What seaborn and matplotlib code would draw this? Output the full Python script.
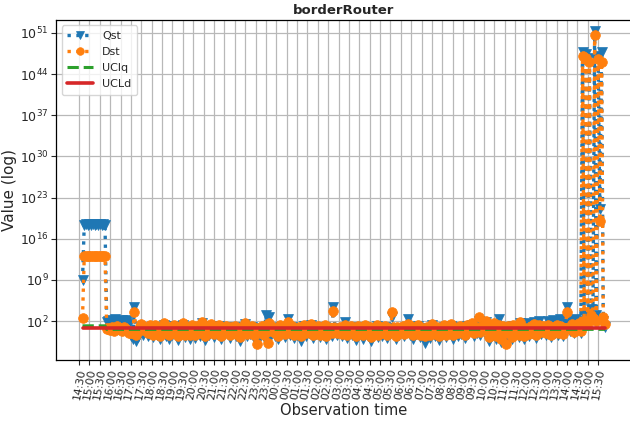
import numpy as np
import pandas as pd
import matplotlib
matplotlib.use("Agg")
import matplotlib.pyplot as plt
import matplotlib.dates as mdates
import matplotlib.ticker as mticker
import seaborn as sns

# ---------------- data (5-minute samples, 14:40 day 1 -> 15:50 day 2) ----------------
start_time = "2021-06-01 14:40"
sample_step = "5min"
first_tick = "2021-06-01 14:30"
last_tick = "2021-06-02 15:30"

qst = [
    # 14:40-14:55
    1e9, 2.5e18, 3e18, 2.5e18,
    # 15:00
    3e18, 2.5e18, 3e18, 2e18, 3e18, 2.5e18, 3e18, 2.5e18, 3e18, 2.5e18, 80, 120,
    # 16:00
    60, 150, 90, 200, 40, 120, 70, 180, 100, 50, 130, 30,
    # 17:00
    0.3, 0.08, 3e4, 0.05, 0.2, 1, 5, 0.5, 2, 8, 0.3, 3,
    # 18:00
    2, 0.2, 10, 0.5, 5, 0.08, 1, 20, 0.3, 3, 0.1, 8,
    # 19:00
    0.4, 15, 1.5, 0.06, 6, 0.7, 25, 0.2, 4, 0.9, 0.1, 12,
    # 20:00
    3, 0.15, 9, 1, 0.3, 40, 2, 0.07, 7, 0.5, 18, 1.2,
    # 21:00
    0.2, 6, 0.6, 14, 0.09, 2.5, 0.4, 9, 1.5, 0.12, 5, 0.8,
    # 22:00
    11, 0.25, 3, 0.05, 7, 1, 30, 0.3, 2, 0.6, 10, 0.15,
    # 23:00
    4, 0.03, 1.5, 0.4, 8, 0.2, 1e3, 0.05, 5e2, 1, 6, 0.3,
    # 00:00
    2, 0.1, 12, 0.7, 3, 0.2, 6, 2e2, 0.5, 9, 0.15, 2.5,
    # 01:00
    0.4, 7, 0.04, 1.8, 15, 0.3, 4, 0.8, 20, 0.12, 3, 0.6,
    # 02:00
    9, 0.2, 2, 0.5, 11, 0.08, 5, 1.2, 0.3, 3e4, 4, 0.4,
    # 03:00
    1.5, 6, 0.3, 0.9, 60, 0.15, 3, 8, 0.5, 2, 0.07, 10,
    # 04:00
    0.6, 4, 0.1, 12, 1, 0.35, 7, 0.05, 2.5, 0.9, 15, 0.2,
    # 05:00
    5, 0.3, 1.8, 9, 0.12, 3, 0.6, 5e2, 2, 0.08, 6, 0.4,
    # 06:00
    1.2, 8, 0.25, 3, 2e2, 0.5, 10, 0.1, 4, 0.7, 14, 0.2,
    # 07:00
    3, 0.6, 0.02, 7, 1.5, 0.15, 20, 0.9, 0.3, 5, 0.06, 2,
    # 08:00
    0.5, 11, 0.2, 3.5, 0.8, 18, 0.1, 6, 1.4, 0.3, 9, 0.7,
    # 09:00
    4, 0.15, 13, 0.6, 2.5, 25, 0.3, 7, 1, 1e2, 0.5, 8,
    # 10:00
    30, 80, 1.2, 0.05, 6, 0.4, 20, 0.1, 3, 2e2, 0.03, 10,
    # 11:00
    0.5, 0.02, 8, 1.5, 0.08, 15, 0.6, 3, 0.2, 40, 1, 0.1,
    # 12:00
    5, 50, 0.3, 9, 1, 80, 0.15, 4, 120, 0.6, 12, 2,
    # 13:00
    0.4, 100, 3, 0.2, 150, 1, 60, 0.5, 200, 7, 0.3, 90,
    # 14:00
    3e4, 150, 2, 100, 0.8, 200, 5, 120, 1, 5e47, 1e3, 3e47,
    # 15:00-15:50
    2e2, 5e46, 1e4, 2e2, 2e51, 1e3, 1e47, 1e21, 5e47, 1e2, 10,
]

dst = [
    # 14:40-14:55
    3e2, 1e13, 1.2e13, 1e13,
    # 15:00
    1.1e13, 1e13, 1.2e13, 1e13, 1.1e13, 1e13, 1.2e13, 1e13, 1.1e13, 1e13, 5, 8,
    # 16:00
    3, 10, 2, 6, 15, 4, 8, 2, 12, 5, 3, 1,
    # 17:00
    1, 0.8, 3e3, 0.5, 2, 15, 30, 3, 10, 6, 1, 20,
    # 18:00
    5, 0.5, 20, 1, 8, 0.3, 3, 40, 0.8, 6, 0.4, 12,
    # 19:00
    1, 25, 3, 0.3, 10, 2, 50, 0.5, 8, 2, 0.4, 20,
    # 20:00
    6, 0.4, 15, 3, 0.8, 80, 4, 0.3, 12, 1, 30, 2.5,
    # 21:00
    0.6, 10, 1.5, 25, 0.3, 5, 1, 15, 3, 0.4, 9, 2,
    # 22:00
    18, 0.6, 6, 0.2, 12, 2.5, 40, 0.7, 4, 1.2, 15, 0.4,
    # 23:00
    8, 0.015, 3, 1, 15, 0.5, 20, 0.02, 40, 2, 10, 0.8,
    # 00:00
    4, 0.3, 20, 1.5, 6, 0.6, 10, 60, 1, 15, 0.5, 5,
    # 01:00
    1, 12, 0.3, 4, 25, 0.8, 8, 2, 35, 0.4, 6, 1.5,
    # 02:00
    15, 0.5, 4, 1, 20, 0.3, 10, 2.5, 0.8, 5e3, 8, 1,
    # 03:00
    3, 10, 0.7, 2, 20, 0.4, 6, 14, 1, 4, 0.3, 18,
    # 04:00
    1.5, 8, 0.4, 20, 2.5, 0.8, 12, 0.2, 5, 2, 25, 0.5,
    # 05:00
    9, 0.8, 4, 15, 0.4, 6, 1.5, 3e3, 4, 0.3, 10, 1,
    # 06:00
    2.5, 14, 0.6, 6, 30, 1, 18, 0.4, 8, 1.5, 22, 0.5,
    # 07:00
    6, 1.2, 0.3, 12, 3, 0.4, 35, 2, 0.7, 9, 0.3, 4,
    # 08:00
    1, 20, 0.5, 7, 2, 30, 0.4, 11, 3, 0.8, 15, 1.5,
    # 09:00
    8, 0.4, 22, 1.5, 5, 40, 0.8, 12, 2, 5e2, 1.2, 15,
    # 10:00
    20, 1e2, 3, 0.2, 12, 1, 40, 0.3, 6, 25, 0.1, 15,
    # 11:00
    1, 0.015, 14, 3, 0.2, 25, 1.2, 6, 0.5, 60, 2, 0.3,
    # 12:00
    8, 2, 0.6, 15, 2, 30, 0.4, 7, 20, 1.2, 18, 4,
    # 13:00
    0.8, 20, 5, 0.5, 10, 2, 25, 1, 15, 12, 0.7, 8,
    # 14:00
    3e3, 10, 4, 30, 1.5, 20, 8, 40, 2, 1e47, 1e2, 5e46,
    # 15:00-15:50
    50, 1e46, 1e3, 3e2, 5e50, 1e2, 3e46, 1e19, 1e46, 5e2, 30,
]

# control limits (UClq steps down after the first burst)
uclq_before, uclq_after = 16.0, 4.0
uclq_change_index = 14
ucld_level = 8.0

y_tick_values = [1e2, 1e9, 1e16, 1e23, 1e30, 1e37, 1e44, 1e51]

times = pd.date_range(start_time, periods=len(qst), freq=sample_step)
uclq = [uclq_before] * uclq_change_index + [uclq_after] * (len(qst) - uclq_change_index)
ucld = [ucld_level] * len(qst)
x_ticks = pd.date_range(first_tick, last_tick, freq="30min")

df = pd.DataFrame({"time": times, "Qst": qst, "Dst": dst, "UClq": uclq, "UCLd": ucld})

# ---------------- plot ----------------
sns.set_theme(style="ticks")
plt.rcParams["font.family"] = ["DejaVu Sans"]

fig, ax = plt.subplots(figsize=(6.3, 4.23), dpi=100)
fig.subplots_adjust(left=0.0895, right=1.0018, top=0.953, bottom=0.149)

blue, orange, green, red = "#1f77b4", "#ff7f0e", "#2ca02c", "#d62728"

sns.lineplot(data=df, x="time", y="Qst", ax=ax, color=blue, linestyle=":", linewidth=2.4,
             marker="v", markersize=6.5, markeredgecolor=blue, markeredgewidth=0.5, label="Qst")
sns.lineplot(data=df, x="time", y="Dst", ax=ax, color=orange, linestyle=":", linewidth=2.4,
             marker="o", markersize=7, markeredgecolor=orange, markeredgewidth=0.5, label="Dst")
sns.lineplot(data=df, x="time", y="UClq", ax=ax, color=green, linestyle="--", linewidth=2.2,
             label="UClq")
sns.lineplot(data=df, x="time", y="UCLd", ax=ax, color=red, linestyle="-", linewidth=2.6,
             label="UCLd")

ax.set_yscale("log")
ax.set_yticks(y_tick_values)
ax.yaxis.set_major_formatter(mticker.LogFormatterMathtext())
ax.yaxis.set_minor_locator(mticker.NullLocator())
ax.set_ylim(10 ** -4.6, 10 ** 53.2)

ax.margins(x=0.05)
ax.set_xticks(x_ticks)
ax.xaxis.set_major_formatter(mdates.DateFormatter("%H:%M"))
ax.xaxis.set_minor_locator(mticker.NullLocator())

ax.grid(True, color="#b8b8b8", linewidth=0.9)
ax.set_axisbelow(True)
for s in ax.spines.values():
    s.set_color("black")
    s.set_linewidth(0.9)

ax.tick_params(axis="x", labelsize=7.8, rotation=80, length=3.5, width=0.8, pad=2)
ax.tick_params(axis="y", labelsize=9, length=3.5, width=0.8, pad=2)

ax.set_title("borderRouter", fontsize=9.5, fontweight="bold", pad=4)
ax.set_xlabel("Observation time", fontsize=10.5, labelpad=2)
ax.set_ylabel("Value (log)", fontsize=11, labelpad=2)

leg = ax.legend(loc="upper left", fontsize=8, handlelength=2.3, borderpad=0.5,
                labelspacing=0.55, frameon=True, fancybox=True, edgecolor="#cccccc")
for h in leg.get_lines():
    h.set_markersize(5.5)

fig.savefig("out.png", dpi=100)
